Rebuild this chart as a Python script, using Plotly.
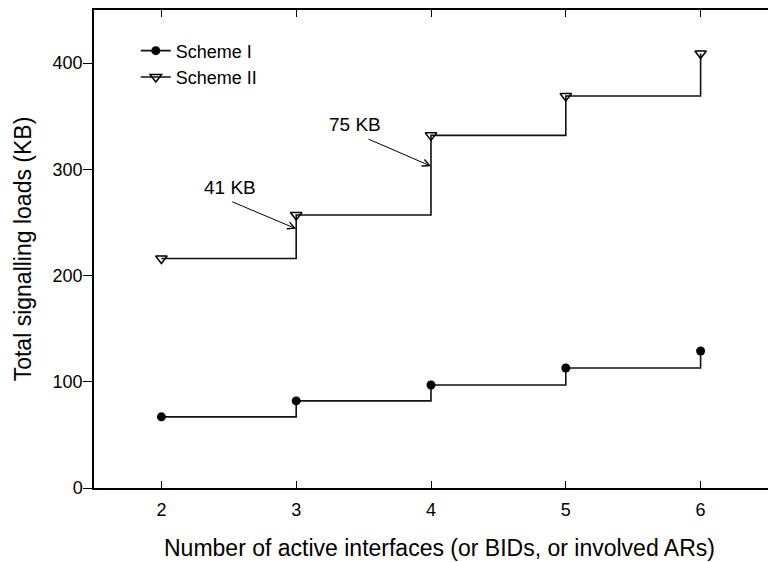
import plotly.graph_objects as go

# Number of active interfaces (x) and total signalling loads in KB
interfaces = [2, 3, 4, 5, 6]
scheme_1 = [67, 82, 97, 113, 129]
scheme_2 = [216, 257, 332, 369, 409]

x_ticks = [2, 3, 4, 5, 6]
y_ticks = [0, 100, 200, 300, 400]

FONT = "Liberation Sans, Arial, Helvetica, sans-serif"

fig = go.Figure()

fig.add_trace(go.Scatter(
    x=interfaces, y=scheme_1, name="Scheme I",
    mode="lines+markers", line=dict(shape="hv", color="#111111", width=1.6),
    marker=dict(symbol="circle", size=9, color="black"),
))
fig.add_trace(go.Scatter(
    x=interfaces, y=scheme_2, name="Scheme II",
    mode="lines+markers", line=dict(shape="hv", color="#111111", width=1.6),
    marker=dict(symbol="triangle-down-open", size=10, color="black",
                line=dict(width=1.5, color="black")),
))

# Step increments of Scheme II, labelled with arrows pointing at the risers
step_a = scheme_2[1] - scheme_2[0]
step_b = scheme_2[2] - scheme_2[1]

annotations = [
    dict(x=2.508, y=282.5, xref="x", yref="y", text=f"{step_a} KB", showarrow=False,
         font=dict(size=19, family=FONT, color="black")),
    dict(x=3, y=244, ax=2.515, ay=270, xref="x", yref="y", axref="x", ayref="y",
         text="", showarrow=True, arrowhead=5, arrowsize=1.4, arrowwidth=1, arrowcolor="black"),
    dict(x=3.433, y=342, xref="x", yref="y", text=f"{step_b} KB", showarrow=False,
         font=dict(size=19, family=FONT, color="black")),
    dict(x=4, y=303, ax=3.526, ay=329, xref="x", yref="y", axref="x", ayref="y",
         text="", showarrow=True, arrowhead=5, arrowsize=1.4, arrowwidth=1, arrowcolor="black"),
    # x-axis title, placed below the tick labels
    dict(x=0.513, y=-0.126, xref="paper", yref="paper", xanchor="center", yanchor="middle",
         text="Number of active interfaces (or BIDs, or involved ARs)", showarrow=False,
         font=dict(size=23, family=FONT, color="black")),
]

fig.update_layout(
    width=768, height=562,
    margin=dict(l=94, r=0, t=10, b=74),
    paper_bgcolor="white", plot_bgcolor="white",
    font=dict(family=FONT, size=18, color="black"),
    showlegend=True,
    legend=dict(x=0.062, y=0.953, xanchor="left", yanchor="top",
                bgcolor="rgba(0,0,0,0)", font=dict(size=18), tracegroupgap=0),
    annotations=annotations,
    xaxis=dict(
        range=[1.5, 6.5], tickvals=x_ticks, ticks="inside", ticklen=7, tickwidth=1,
        tickcolor="black", showline=True, linecolor="black", linewidth=1.5,
        mirror="ticks", showgrid=False, zeroline=False, ticklabelstandoff=5,
        tickfont=dict(size=18),
    ),
    yaxis=dict(
        range=[0, 450], tickvals=y_ticks, ticks="outside", ticklen=9, tickwidth=1,
        tickcolor="black", showline=True, linecolor="black", linewidth=1.5,
        showgrid=False, zeroline=False, ticklabelstandoff=-3,
        title=dict(text="Total signalling loads (KB)", font=dict(size=23), standoff=15),
        tickfont=dict(size=18),
    ),
)

fig.write_html("out.html")
